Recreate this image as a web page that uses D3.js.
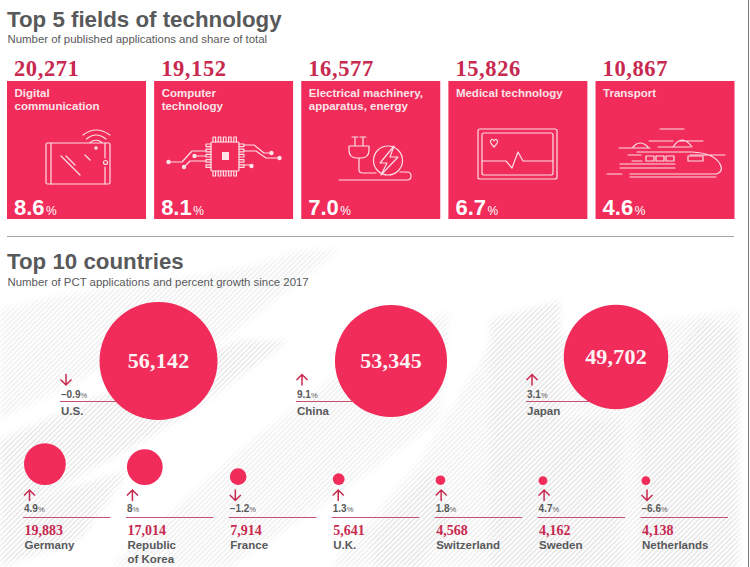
<!DOCTYPE html>
<html><head><meta charset="utf-8">
<script src="https://cdn.jsdelivr.net/npm/d3@7"></script>
<style>html,body{margin:0;padding:0;background:#fff;overflow:hidden}svg{display:block}
text{font-family:"Liberation Sans",Arial,sans-serif}
.serif{font-family:"Liberation Serif",serif;font-weight:700}</style></head><body>
<svg id="c" width="750" height="567"></svg>
<script>
// ---- data ----
const fieldNames=[["Digital","communication"],["Computer","technology"],["Electrical machinery,","apparatus, energy"],["Medical technology"],["Transport"]];
const fieldCounts=[20271,19152,16577,15826,10867];
const fieldShares=["8.6","8.1","7.0","6.7","4.6"];
const bigCountries=["U.S.","China","Japan"];
const bigCounts=[56142,53345,49702];
const bigGrowth=["–0.9","9.1","3.1"];
const smallCountries=[["Germany"],["Republic","of Korea"],["France"],["U.K."],["Switzerland"],["Sweden"],["Netherlands"]];
const smallCounts=[19883,17014,7914,5641,4568,4162,4138];
const smallGrowth=["4.9","8","–1.2","1.3","1.8","4.7","–6.6"];

const RED="#f12b5a",CRIM="#c8294f",GREY="#58595b",LINE="#c8506f";
const svg=d3.select("#c"),fmt=d3.format(",");
const r=d3.scaleLinear().domain([0,56142]).range([0,59]);
const xField=d3.scaleBand().domain(d3.range(5)).range([7,734.5]).paddingInner(0.0555).paddingOuter(0);
const xSmall=d3.scalePoint().domain(d3.range(7)).range([24,641.5]);
const xBigLabel=d3.scaleOrdinal().domain(bigCountries).range([60,296,526]);
const xBigCircle=d3.scaleOrdinal().domain(bigCountries).range([158.5,391,616]);
const yBigCircle=d3.scaleOrdinal().domain(bigCountries).range([361,361,357]);
const lineEnd=d3.scaleOrdinal().domain(bigCountries).range([120,352,590]);

// ---- background hatch ----
const defs=svg.append("defs");
const mk=(id,c,w)=>defs.append("pattern").attr("id",id).attr("width",3.6).attr("height",3.6)
  .attr("patternUnits","userSpaceOnUse").attr("patternTransform","rotate(45)")
  .call(p=>p.append("rect").attr("width",w).attr("height",3.6).attr("fill",c));
mk("h1","#eaeaeb",1.8);mk("h2","#f1f1f2",1.8);
defs.append("filter").attr("id","soft").attr("x","-10%").attr("y","-10%").attr("width","120%").attr("height","120%")
  .append("feGaussianBlur").attr("stdDeviation",3);
const bg=[
 ["h2","0,310 60,295 200,275 340,250 200,320 60,390 0,420"],
 ["h1","0,440 100,395 240,340 290,340 180,420 90,470 0,520"],
 ["h2","110,567 240,450 380,340 450,310 440,420 330,500 230,567"],
 ["h2","330,567 420,460 490,345 740,310 740,567"],
 ["h1","490,567 490,320 560,300 560,420 620,420 620,567"],
 ["h1","640,567 640,420 700,320 735,330 735,567"],
 ["h1","0,520 60,490 130,470 80,540 0,567"],
 ["h2","150,300 300,250 340,250 250,320 170,380"],
 ["h1","370,540 430,470 450,520 420,567 375,567"]
];
["h2","h1"].forEach(h=>{
  defs.append("mask").attr("id","m"+h).attr("maskUnits","userSpaceOnUse").attr("x",0).attr("y",0).attr("width",750).attr("height",567)
    .append("g").attr("filter","url(#soft)").selectAll("polygon").data(bg.filter(d=>d[0]===h)).join("polygon").attr("points",d=>d[1]).attr("fill","#fff");
  svg.append("rect").attr("width",745).attr("height",567).attr("fill",`url(#${h})`).attr("mask",`url(#m${h})`);
});
svg.append("line").attr("x1",748.5).attr("x2",748.5).attr("y1",0).attr("y2",567).attr("stroke","#777").attr("stroke-width",1);

// ---- headings ----
const title=(t,y)=>svg.append("text").attr("x",7).attr("y",y).attr("font-size",22.3).attr("font-weight",700).attr("fill",GREY).text(t);
const sub=(t,y)=>svg.append("text").attr("x",7.5).attr("y",y).attr("font-size",11.4).attr("fill",GREY).text(t);
title("Top 5 fields of technology",27);sub("Number of published applications and share of total",43);
svg.append("line").attr("x1",7).attr("x2",734).attr("y1",236.5).attr("y2",236.5).attr("stroke","#a3a3a5").attr("stroke-width",1);
title("Top 10 countries",269);sub("Number of PCT applications and percent growth since 2017",286);

// ---- field cards ----
const cards=svg.append("g").selectAll("g").data(fieldNames).join("g").attr("transform",(d,i)=>`translate(${xField(i)},0)`);
cards.append("rect").attr("y",81).attr("width",xField.bandwidth()).attr("height",138).attr("fill",RED);
cards.append("text").attr("class","serif").attr("x",7).attr("y",76).attr("font-size",22.5).attr("letter-spacing",0.6).attr("fill",CRIM).text((d,i)=>fmt(fieldCounts[i]));
cards.each(function(d){d3.select(this).selectAll(".n").data(d).join("text").attr("class","n").attr("x",7.5)
  .attr("y",(s,j)=>97+j*13).attr("font-size",11.5).attr("font-weight",700).attr("fill","#fbe3e8").text(s=>s);});
const share=cards.append("text").attr("x",7).attr("y",215).attr("fill","#fff");
share.append("tspan").attr("font-size",22).attr("font-weight",700).text((d,i)=>fieldShares[i]);
share.append("tspan").attr("font-size",12).attr("dx",1.5).text("%");

// ---- icons (decoration) ----
const ic=svg.append("g").attr("fill","none").attr("stroke","#fbdfe5").attr("stroke-width",1.2).attr("stroke-linecap","round").attr("stroke-linejoin","round");
const P=d=>ic.append("path").attr("d",d);
const dot=(x,y,s=2.2)=>ic.append("circle").attr("cx",x).attr("cy",y).attr("r",s).attr("fill","#fbe3e8").attr("stroke","none");
// tablet
ic.append("rect").attr("x",46).attr("y",143).attr("width",64).attr("height",41).attr("rx",1.5);
P("M51 143V184M105 143V158M105 167V184M61 156L80 175M66 156L75 165M85 155L90 160");
ic.append("circle").attr("cx",105.5).attr("cy",162.5).attr("r",2);
P("M83 135Q96 125 110 135M86.5 139Q96 131 106 139M90 142.5Q96 138 102 142.5");
dot(96,148,1.8);
// chip
ic.append("rect").attr("x",211).attr("y",142).attr("width",28).attr("height",29).attr("rx",1);
const comb=[];for(let k=0;k<5;k++){const a=213+k*5.2;comb.push(`M${a} 142V137H${a+2.6}V142M${a} 171V176H${a+2.6}V171`);
 const b=144+k*5.2;comb.push(`M211 ${b}H206V${b+2.6}H211M239 ${b}H244V${b+2.6}H239`);}
P(comb.join(""));
ic.append("rect").attr("x",222).attr("y",152).attr("width",7).attr("height",8).attr("fill","#fbe3e8").attr("stroke","none");
P("M170 162H182L192 151H206M195 156H206M184 167L190 161H206M244 145H254L264 153H272M244 151H256L266 158H280M244 165H251");
dot(168.5,162);dot(194.5,156);dot(184,167);dot(271.5,153);dot(279.5,158);dot(251.5,166);
// plug
P("M355 137V146M363 137V146M352 137H358M360 137H366M349 146H369V150Q369 158 361 158H357Q349 158 349 150ZM359 158V170Q359 173 363 173H376M339 180H407Q411 180 411 176Q411 172 407 172H400");
ic.append("circle").attr("cx",388).attr("cy",160.5).attr("r",14.5);
P("M394 146L380 163H387L381 175L398 157H390Z");
// monitor
ic.append("rect").attr("x",478).attr("y",129).attr("width",79).attr("height",50).attr("rx",2);
ic.append("rect").attr("x",482).attr("y",133).attr("width",71).attr("height",42).attr("rx",2);
P("M482 161H506L512 168L518 152L523 161H553");
P("M494 147Q489 142 491 140Q493 138.5 494 141Q495 138.5 497 140Q499 142 494 147Z");
// train
P("M660 129H684M649 141H673M658 147H690M680 141H703M673 147Q682 133 692 147M619 148H650M633 147Q640 139 648 147");
P("M637 152H692Q714 153 720 164Q724 172 716 174H630M628 155H641M632 161H642M620 164H675M607 174H622M630 177H716M620 168H675M690 155L725 155");
[646,656,666].forEach(x=>ic.append("rect").attr("x",x).attr("y",156).attr("width",8).attr("height",5));
ic.append("rect").attr("x",688).attr("y",156).attr("width",15).attr("height",5);

// ---- countries ----
const arrow=(g,up,x,y)=>g.append("path").attr("fill","none").attr("stroke",CRIM).attr("stroke-width",1.5)
  .attr("d",up?`M${x} ${y+11.5}V${y+0.5}M${x-5.5} ${y+6}L${x} ${y+0.5}L${x+5.5} ${y+6}`
              :`M${x} ${y}V${y+11}M${x-5.5} ${y+5.5}L${x} ${y+11}L${x+5.5} ${y+5.5}`);
const pct=(g,v,x,y)=>{const t=g.append("text").attr("x",x).attr("y",y).attr("fill",GREY);
  t.append("tspan").attr("font-size",10).attr("font-weight",700).text(v);
  t.append("tspan").attr("font-size",7.5).text("%");};

const bigG=svg.append("g");
bigCountries.forEach((c,i)=>{
  const x=xBigLabel(c);
  arrow(bigG,!bigGrowth[i].startsWith("–"),x+6,374);
  pct(bigG,bigGrowth[i],x+1,398);
  bigG.append("line").attr("x1",x).attr("x2",lineEnd(c)).attr("y1",401.5).attr("y2",401.5).attr("stroke",LINE).attr("stroke-width",1);
  bigG.append("text").attr("x",x+1).attr("y",415).attr("font-size",11.5).attr("font-weight",700).attr("fill",GREY).text(c);
  bigG.append("circle").attr("cx",xBigCircle(c)).attr("cy",yBigCircle(c)).attr("r",r(bigCounts[i])).attr("fill",RED);
  bigG.append("text").attr("class","serif").attr("x",xBigCircle(c)).attr("y",yBigCircle(c)+6.5).attr("text-anchor","middle").attr("font-size",22).attr("letter-spacing",0.2).attr("fill","#fdf2f4").text(fmt(bigCounts[i]));
});

const smallG=svg.append("g").selectAll("g").data(smallCountries).join("g").attr("transform",(d,i)=>`translate(${xSmall(i)},0)`);
smallG.append("circle").attr("cx",(d,i)=>r(smallCounts[i])).attr("cy",(d,i)=>485-r(smallCounts[i])).attr("r",(d,i)=>r(smallCounts[i])).attr("fill",RED);
smallG.each(function(d,i){const g=d3.select(this);
  arrow(g,!smallGrowth[i].startsWith("–"),5.5,489.5);
  pct(g,smallGrowth[i],0,512);
  d.forEach((s,j)=>g.append("text").attr("x",0.5).attr("y",549+j*13.5).attr("font-size",11.5).attr("font-weight",700).attr("fill",GREY).text(s));
});
smallG.append("line").attr("x1",-1).attr("x2",86.5).attr("y1",517.5).attr("y2",517.5).attr("stroke",LINE).attr("stroke-width",1);
smallG.append("text").attr("class","serif").attr("x",0.5).attr("y",534.5).attr("font-size",14).attr("fill",CRIM).text((d,i)=>fmt(smallCounts[i]));
</script>
</body></html>
